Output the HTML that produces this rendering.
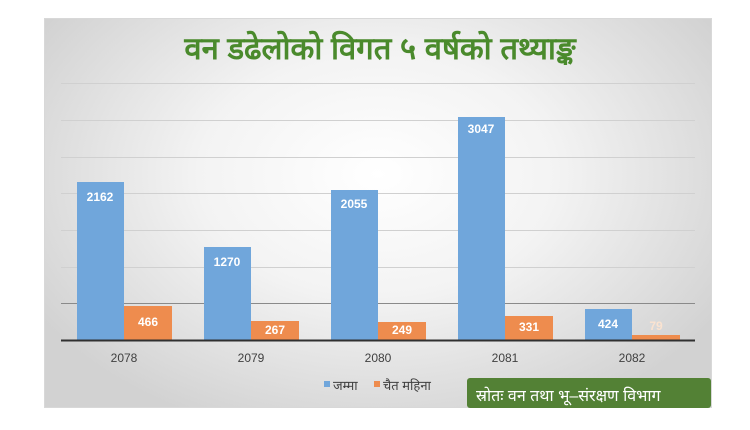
<!DOCTYPE html>
<html><head><meta charset="utf-8"><style>
body{margin:0;width:750px;height:430px;background:#fff;overflow:hidden;font-family:"Liberation Sans","Noto Sans CJK SC",sans-serif}
#p{position:absolute;left:44px;top:18px;width:668px;height:390px;background:radial-gradient(ellipse 60% 70% at 50% 40%,#ffffff 0%,#f3f3f3 45%,#d2d2d2 100%);border:1px solid #d8d8d8;box-sizing:border-box}
</style></head><body>
<div id="p"></div>
<svg width="750" height="430" style="position:absolute;left:0;top:0" font-family="Liberation Sans, Noto Sans CJK SC, sans-serif">
<text x="380" y="59" text-anchor="middle" font-size="31" font-weight="bold" fill="#4a8a2c">वन डढेलोको विगत ५ वर्षको तथ्याङ्क</text>
<g stroke="#d0d0d0" stroke-width="1">
<line x1="61" x2="695" y1="83.5" y2="83.5"/><line x1="61" x2="695" y1="120.5" y2="120.5"/><line x1="61" x2="695" y1="157.5" y2="157.5"/><line x1="61" x2="695" y1="193.5" y2="193.5"/><line x1="61" x2="695" y1="230.5" y2="230.5"/><line x1="61" x2="695" y1="267.5" y2="267.5"/></g>
<line x1="61" x2="695" y1="303.5" y2="303.5" stroke="#8a8a8a"/>
<g fill="#70a6db">
<rect x="77" y="182" width="47" height="158"/><rect x="204" y="247" width="47" height="93"/><rect x="331" y="190" width="47" height="150"/><rect x="458" y="117" width="47" height="223"/><rect x="585" y="309" width="47" height="31"/></g>
<g fill="#ee8c4e">
<rect x="124" y="306" width="48" height="34"/><rect x="251" y="321" width="48" height="19"/><rect x="378" y="322" width="48" height="18"/><rect x="505" y="316" width="48" height="24"/><rect x="632" y="335" width="48" height="5"/></g>
<line x1="61" x2="695" y1="340.5" y2="340.5" stroke="#303030" stroke-width="2"/>
<g fill="#fff" font-size="12" font-weight="bold" text-anchor="middle">
<text x="100" y="201">2162</text><text x="227" y="266">1270</text><text x="354" y="208">2055</text><text x="481" y="133">3047</text><text x="608" y="328">424</text>
<text x="148" y="326">466</text><text x="275" y="334">267</text><text x="402" y="334">249</text><text x="529" y="331">331</text><text x="656" y="330" fill="#fbe3d0">79</text></g>
<g fill="#404040" font-size="12" text-anchor="middle">
<text x="124" y="362">2078</text><text x="251" y="362">2079</text><text x="378" y="362">2080</text><text x="505" y="362">2081</text><text x="632" y="362">2082</text></g>
<rect x="324" y="381" width="6" height="6" fill="#70a6db"/><text x="333" y="390" font-size="13" fill="#404040">जम्मा</text>
<rect x="374" y="381" width="6" height="6" fill="#ee8c4e"/><text x="383" y="390" font-size="13" fill="#404040">चैत महिना</text>
<rect x="467" y="378" width="244" height="30" rx="3" fill="#538135"/>
<text x="476" y="401" font-size="16" fill="#fff">स्रोतः वन तथा भू–संरक्षण विभाग</text>
</svg>
</body></html>
